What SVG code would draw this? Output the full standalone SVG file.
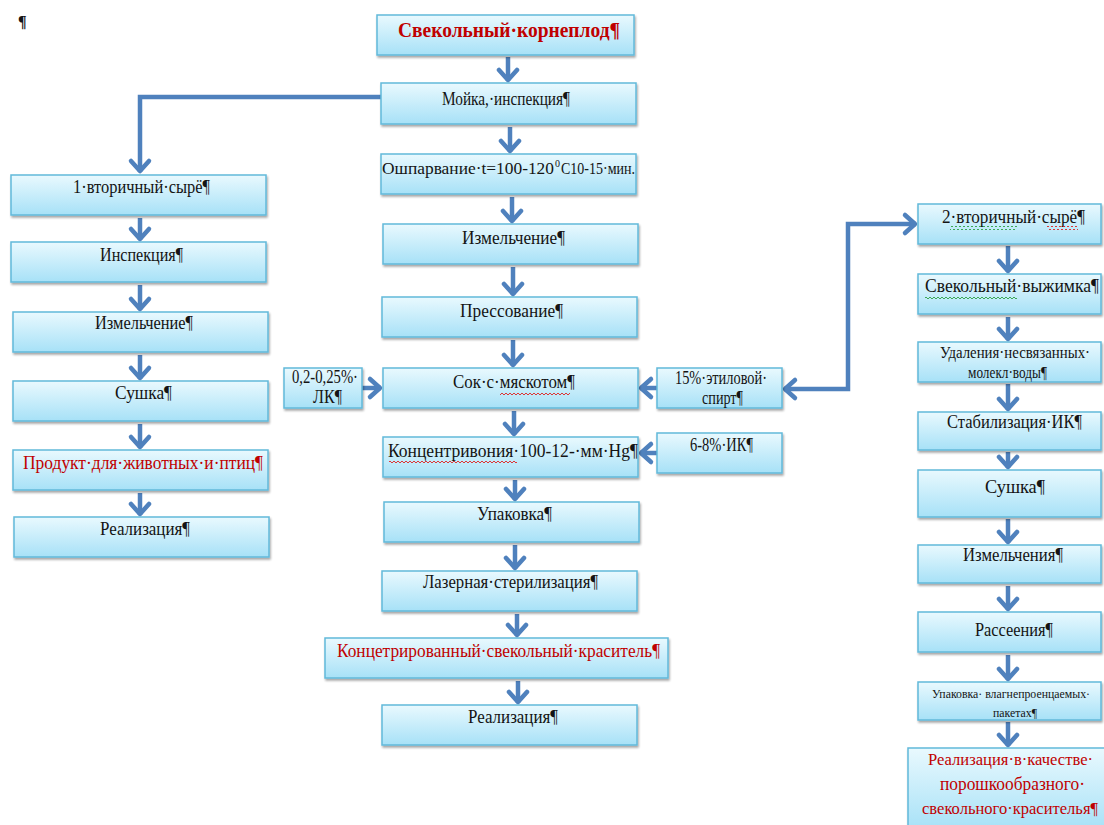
<svg xmlns="http://www.w3.org/2000/svg" width="1104" height="825" viewBox="0 0 1104 825">
<style>
.box{fill:url(#g);stroke:#62b9da;stroke-width:1.5;filter:url(#sh)}
.t{font-family:"Liberation Serif","Times New Roman",serif;font-size:18px;fill:#141414}
.r{fill:#c00000}
.b{font-weight:bold;font-size:20px}
.sm{font-size:13px}
.c{fill:none;stroke:#4f81bd;stroke-width:4.5;marker-end:url(#ah)}
</style>
<defs>
<linearGradient id="g" x1="0" y1="0" x2="0" y2="1">
<stop offset="0" stop-color="#e9f9fe"/>
<stop offset="1" stop-color="#a7e1f7"/>
</linearGradient>
<filter id="sh" x="-10%" y="-10%" width="120%" height="140%">
<feDropShadow dx="1" dy="2" stdDeviation="1.2" flood-color="#000" flood-opacity="0.35"/>
</filter>
<marker id="ah" markerUnits="userSpaceOnUse" viewBox="-16 -14 20 28" markerWidth="20" markerHeight="28" refX="0" refY="0" orient="auto">
<path d="M-11,-9 L-1,0 L-11,9" fill="none" stroke="#4f81bd" stroke-width="4.5" stroke-linecap="round" stroke-linejoin="round"/>
</marker>
<marker id="as" markerUnits="userSpaceOnUse" viewBox="-4 -14 20 28" markerWidth="20" markerHeight="28" refX="0" refY="0" orient="auto">
<path d="M11,-9 L1,0 L11,9" fill="none" stroke="#4f81bd" stroke-width="4.5" stroke-linecap="round" stroke-linejoin="round"/>
</marker>
<pattern id="wr" width="4" height="4" patternUnits="userSpaceOnUse">
<polyline points="0,3 2,1 4,3" fill="none" stroke="#e02020" stroke-width="0.9"/>
</pattern>
<pattern id="wg" width="4" height="4" patternUnits="userSpaceOnUse">
<polyline points="0,3 2,1 4,3" fill="none" stroke="#2ea043" stroke-width="0.9"/>
</pattern>
</defs>
<rect width="1104" height="825" fill="#ffffff"/>
<text x="18" y="27" class="t" style="font-weight:bold;font-size:16px">¶</text>

<g id="connectors">
<line class="c" x1="508" y1="57" x2="508" y2="81"/>
<line class="c" x1="510" y1="127" x2="510" y2="152"/>
<line class="c" x1="512" y1="197" x2="512" y2="222"/>
<line class="c" x1="513" y1="267" x2="513" y2="295"/>
<line class="c" x1="513" y1="340" x2="513" y2="366"/>
<line class="c" x1="514" y1="411" x2="514" y2="435"/>
<line class="c" x1="515" y1="480" x2="515" y2="500"/>
<line class="c" x1="515" y1="545" x2="515" y2="569"/>
<line class="c" x1="517" y1="614" x2="517" y2="636"/>
<line class="c" x1="518" y1="681" x2="518" y2="703"/>
<polyline class="c" points="381,97 140,97 140,172"/>
<line class="c" x1="140" y1="218" x2="140" y2="240"/>
<line class="c" x1="140" y1="285" x2="140" y2="310"/>
<line class="c" x1="140" y1="355" x2="140" y2="379"/>
<line class="c" x1="140" y1="424" x2="140" y2="448"/>
<line class="c" x1="140" y1="493" x2="140" y2="515"/>
<line class="c" x1="1008" y1="246" x2="1008" y2="272"/>
<line class="c" x1="1008" y1="317" x2="1008" y2="340"/>
<line class="c" x1="1008" y1="384" x2="1008" y2="410"/>
<line class="c" x1="1008" y1="452" x2="1008" y2="468"/>
<line class="c" x1="1008" y1="519" x2="1008" y2="543"/>
<line class="c" x1="1008" y1="586" x2="1008" y2="610"/>
<line class="c" x1="1008" y1="655" x2="1008" y2="680"/>
<line class="c" x1="1008" y1="722" x2="1008" y2="746"/>
<line class="c" x1="362" y1="388" x2="381" y2="388"/>
<line class="c" x1="657" y1="388" x2="640" y2="388"/>
<line class="c" x1="657" y1="453" x2="640" y2="453"/>
<polyline class="c" style="marker-start:url(#as)" points="784,389 848,389 848,224 916,224"/>
</g>

<g id="n1"><rect class="box" x="377" y="15" width="257" height="40"/><text class="t r b" x="398" y="37" textLength="222" lengthAdjust="spacingAndGlyphs">Свекольный·корнеплод¶</text></g>
<g id="n2"><rect class="box" x="381" y="83" width="255" height="41"/><text class="t" x="442" y="105" textLength="128" lengthAdjust="spacingAndGlyphs">Мойка,·инспекция¶</text></g>
<g id="n3"><rect class="box" x="381" y="154" width="255" height="40"/><text class="t" x="382" y="174" textLength="172" lengthAdjust="spacingAndGlyphs" style="font-size:17px">Ошпарвание·t=100-120</text><text class="t" x="555" y="167" style="font-size:10px">0</text><text class="t" x="561" y="174" textLength="74" lengthAdjust="spacingAndGlyphs" style="font-size:17px">C10-15·мин.</text></g>
<g id="n4"><rect class="box" x="383" y="224" width="255" height="40"/><text class="t" x="462" y="244" textLength="103" lengthAdjust="spacingAndGlyphs">Измельчение¶</text></g>
<g id="n5"><rect class="box" x="382" y="297" width="255" height="40"/><text class="t" x="460" y="317" textLength="103" lengthAdjust="spacingAndGlyphs">Прессование¶</text></g>
<g id="n6"><rect class="box" x="383" y="368" width="255" height="40"/><text class="t" x="453" y="388" textLength="122" lengthAdjust="spacingAndGlyphs">Сок·с·мяскотом¶</text><rect x="500" y="391" width="70" height="4" fill="url(#wr)"/></g>
<g id="n7"><rect class="box" x="383" y="437" width="255" height="40"/><text class="t" x="388" y="457" textLength="250" lengthAdjust="spacingAndGlyphs">Концентривония·100-12-·мм·Hg¶</text><rect x="389" y="460" width="128" height="4" fill="url(#wr)"/></g>
<g id="n8"><rect class="box" x="384" y="502" width="255" height="40"/><text class="t" x="477" y="520" textLength="75" lengthAdjust="spacingAndGlyphs">Упаковка¶</text></g>
<g id="n9"><rect class="box" x="382" y="571" width="255" height="40"/><text class="t" x="423" y="588" textLength="175" lengthAdjust="spacingAndGlyphs">Лазерная·стерилизация¶</text></g>
<g id="n10"><rect class="box" x="325" y="638" width="343" height="40"/><text class="t r" x="337" y="657" textLength="323" lengthAdjust="spacingAndGlyphs">Концетрированный·свекольный·краситель¶</text></g>
<g id="n11"><rect class="box" x="382" y="705" width="255" height="40"/><text class="t" x="468" y="723" textLength="90" lengthAdjust="spacingAndGlyphs">Реализация¶</text></g>

<g id="s1"><rect class="box" x="284" y="368" width="78" height="40"/><text class="t" x="292" y="383" textLength="66" lengthAdjust="spacingAndGlyphs">0,2-0,25%·</text><text class="t" x="313" y="403" textLength="29" lengthAdjust="spacingAndGlyphs">ЛК¶</text></g>
<g id="s2"><rect class="box" x="657" y="368" width="125" height="40"/><text class="t" x="675" y="384" textLength="92" lengthAdjust="spacingAndGlyphs">15%·этиловой·</text><text class="t" x="702" y="404" textLength="41" lengthAdjust="spacingAndGlyphs">спирт¶</text></g>
<g id="s3"><rect class="box" x="657" y="433" width="125" height="40"/><text class="t" x="690" y="451" textLength="63" lengthAdjust="spacingAndGlyphs">6-8%·ИК¶</text></g>

<g id="l1"><rect class="box" x="11" y="175" width="255" height="40"/><text class="t" x="73" y="193" textLength="137" lengthAdjust="spacingAndGlyphs">1·вторичный·сырё¶</text></g>
<g id="l2"><rect class="box" x="11" y="242" width="255" height="40"/><text class="t" x="100" y="261" textLength="83" lengthAdjust="spacingAndGlyphs">Инспекция¶</text></g>
<g id="l3"><rect class="box" x="13" y="312" width="255" height="40"/><text class="t" x="95" y="329" textLength="98" lengthAdjust="spacingAndGlyphs">Измельчение¶</text></g>
<g id="l4"><rect class="box" x="13" y="381" width="255" height="40"/><text class="t" x="115" y="399" textLength="57" lengthAdjust="spacingAndGlyphs">Сушка¶</text></g>
<g id="l5"><rect class="box" x="13" y="450" width="255" height="40"/><text class="t r" x="23" y="469" textLength="240" lengthAdjust="spacingAndGlyphs">Продукт·для·животных·и·птиц¶</text></g>
<g id="l6"><rect class="box" x="14" y="517" width="255" height="40"/><text class="t" x="100" y="535" textLength="90" lengthAdjust="spacingAndGlyphs">Реализация¶</text></g>

<g id="r1"><rect class="box" x="918" y="204" width="183" height="40"/><text class="t" x="942" y="223" textLength="143" lengthAdjust="spacingAndGlyphs">2·вторичный·сырё¶</text><rect x="950" y="226" width="67" height="4" fill="url(#wg)"/><rect x="1047" y="226" width="31" height="4" fill="url(#wr)"/></g>
<g id="r2"><rect class="box" x="918" y="274" width="183" height="40"/><text class="t" x="925" y="292" textLength="174" lengthAdjust="spacingAndGlyphs">Свекольный·выжимка¶</text><rect x="925" y="295" width="92" height="4" fill="url(#wg)"/></g>
<g id="r3"><rect class="box" x="918" y="342" width="183" height="40"/><text class="t" x="940" y="358" textLength="150" lengthAdjust="spacingAndGlyphs" style="font-size:16px">Удаления·несвязанных·</text><text class="t" x="968" y="378" textLength="79" lengthAdjust="spacingAndGlyphs" style="font-size:16px">молекл·воды¶</text></g>
<g id="r4"><rect class="box" x="918" y="412" width="183" height="38"/><text class="t" x="947" y="428" textLength="135" lengthAdjust="spacingAndGlyphs">Стабилизация·ИК¶</text></g>
<g id="r5"><rect class="box" x="918" y="470" width="183" height="47"/><text class="t" x="985" y="493" textLength="60" lengthAdjust="spacingAndGlyphs">Сушка¶</text></g>
<g id="r6"><rect class="box" x="918" y="545" width="183" height="38"/><text class="t" x="963" y="561" textLength="100" lengthAdjust="spacingAndGlyphs">Измельчения¶</text></g>
<g id="r7"><rect class="box" x="918" y="612" width="183" height="40"/><text class="t" x="975" y="636" textLength="78" lengthAdjust="spacingAndGlyphs">Рассеения¶</text></g>
<g id="r8"><rect class="box" x="918" y="682" width="183" height="38"/><text class="t sm" x="932" y="698" textLength="158" lengthAdjust="spacingAndGlyphs">Упаковка· влагнепроенцаемых·</text><text class="t sm" x="993" y="717" textLength="44" lengthAdjust="spacingAndGlyphs">пакетах¶</text></g>
<g id="r9"><rect class="box" x="908" y="748" width="200" height="82"/><text class="t r" x="928" y="765" textLength="165" lengthAdjust="spacingAndGlyphs" style="font-size:16.5px">Реализация·в·качестве·</text><text class="t r" x="940" y="790" textLength="145" lengthAdjust="spacingAndGlyphs">порошкообразного·</text><text class="t r" x="922" y="814" textLength="176" lengthAdjust="spacingAndGlyphs" style="font-size:16.5px">свекольного·красителья¶</text></g>
</svg>
